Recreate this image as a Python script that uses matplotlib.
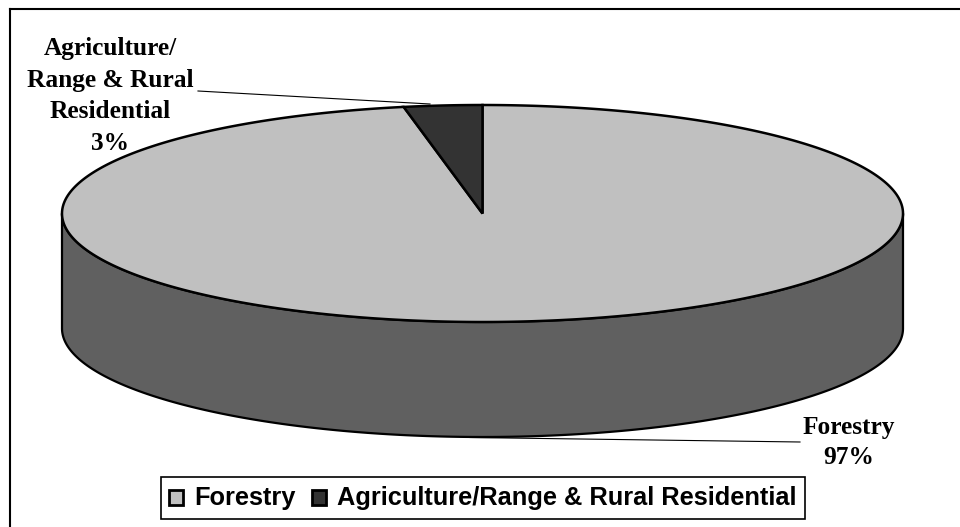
import numpy as np
import matplotlib
matplotlib.use("Agg")
import matplotlib.pyplot as plt
from matplotlib.patches import Polygon, Rectangle

# land use shares (percent)
categories = ["Forestry", "Agriculture/Range & Rural Residential"]
shares = [97, 3]
pie_labels = ["Forestry\n97%", "Agriculture/\nRange & Rural\nResidential\n3%"]
top_colors = ["#c0c0c0", "#333333"]
side_colors = ["#606060", "#1a1a1a"]

# pie geometry, in pixels
cx, cy = 482.5, 213.5
rx, ry = 420.5, 108.5
depth = 115

fig = plt.figure(figsize=(9.6, 5.27), dpi=100)
ax = fig.add_axes([0, 0, 1, 1])
ax.set_xlim(0, 960)
ax.set_ylim(527, 0)
ax.axis("off")


def pt(theta_deg, dy=0):
    t = np.radians(theta_deg)
    return cx + rx * np.cos(t), cy - ry * np.sin(t) + dy


# slices start at 12 o'clock and run clockwise
fracs = np.array(shares) / np.sum(shares)
starts = 90 - 360 * np.concatenate([[0], np.cumsum(fracs)[:-1]])
ends = starts - 360 * fracs

# sides first (only the front half, 180..360 deg, is visible)
for s, e, col in zip(starts, ends, side_colors):
    lo, hi = e, s
    for off in (0, -360, 360):
        a0 = max(lo + off, 180)
        a1 = min(hi + off, 360)
        if a1 <= a0:
            continue
        th = np.linspace(a0, a1, 200)
        upper = [pt(t) for t in th]
        lower = [pt(t, depth) for t in th[::-1]]
        ax.add_patch(Polygon(upper + lower, closed=True, facecolor=col,
                             edgecolor="black", lw=1.6, joinstyle="round"))

# top face wedges
for s, e, col in zip(starts, ends, top_colors):
    n = max(int(abs(s - e) * 2), 10)
    th = np.linspace(s, e, n)
    verts = [(cx, cy)] + [pt(t) for t in th]
    ax.add_patch(Polygon(verts, closed=True, facecolor=col,
                         edgecolor="black", lw=1.8, joinstyle="miter"))

# data labels with leader lines
lab_font = dict(family="Liberation Serif", weight="bold", fontsize=18.3)
ax.text(110, 96, pie_labels[1], ha="center", va="center",
        linespacing=1.5, **lab_font)
ax.plot([198, 430], [91, 104], color="black", lw=0.8)
ax.text(849, 442.5, pie_labels[0], ha="center", va="center",
        linespacing=1.4, **lab_font)
ax.plot([470, 800], [437.5, 442], color="black", lw=0.8)

# legend
ax.add_patch(Rectangle((161, 477), 644, 42, facecolor="white",
                       edgecolor="black", lw=1.2))
leg_font = dict(family="Liberation Sans", weight="bold", fontsize=18.3)
x = 169
for name, col in zip(categories, top_colors):
    ax.add_patch(Rectangle((x, 490), 14, 15, facecolor=col,
                           edgecolor="black", lw=2))
    t = ax.text(x + 25, 498.5, name, ha="left", va="center", **leg_font)
    fig.canvas.draw()
    bb = t.get_window_extent().transformed(ax.transData.inverted())
    x = max(bb.x0, bb.x1) + 17

# chart frame (top and left edges)
ax.plot([10, 960], [9, 9], color="black", lw=1.5)
ax.plot([10, 10], [9, 527], color="black", lw=1.5)

fig.savefig("out.png", dpi=100)
